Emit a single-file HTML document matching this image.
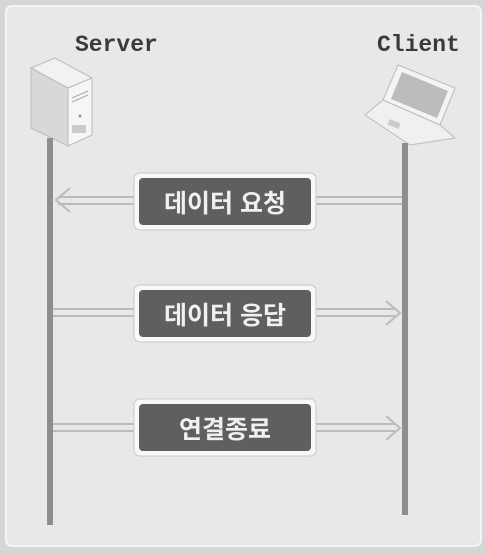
<!DOCTYPE html>
<html><head><meta charset="utf-8"><style>
body{margin:0;width:486px;height:550px;background:#d4d4d4;overflow:hidden;font-family:"Liberation Sans","Noto Sans CJK KR",sans-serif}
</style></head><body>
<svg width="486" height="550" xmlns="http://www.w3.org/2000/svg">
<rect x="0" y="0" width="486" height="550" fill="#d6d6d6"/>
<rect x="6" y="6" width="475" height="540" rx="6" fill="#e8e8ea" stroke="#f4f4f4" stroke-width="2"/>
<text x="75" y="51" font-family="Liberation Mono, monospace" font-size="23" font-weight="bold" fill="#3a3a3a">Server</text>
<text x="377" y="51" font-family="Liberation Mono, monospace" font-size="23" font-weight="bold" fill="#3a3a3a">Client</text>
<!-- server icon -->
<polygon points="31,68 55,58 92,78 68,88" fill="#f2f2f2" stroke="#bbb"/>
<polygon points="31,68 68,88 68,146 31,128" fill="#d8d8d8" stroke="#bbb"/>
<polygon points="68,88 92,78 92,135 68,146" fill="#f6f6f6" stroke="#bbb"/>
<line x1="72" y1="98" x2="88" y2="91" stroke="#aaa"/>
<line x1="72" y1="102" x2="88" y2="95" stroke="#aaa"/>
<circle cx="80" cy="116" r="1.5" fill="#999"/>
<rect x="72" y="125" width="14" height="8" fill="#ccc"/>
<!-- laptop -->
<polygon points="398,65 455,88 440,125 383,100" fill="#f4f4f4" stroke="#bbb"/>
<polygon points="402,72 448,91 437,118 391,99" fill="#bcbcbc"/>
<polygon points="365,115 383,100 440,125 455,138 410,145" fill="#f0f0f0" stroke="#bbb"/>
<rect x="388" y="121" width="12" height="6" fill="#ccc" transform="rotate(20 394 124)"/>
<!-- lifelines -->
<line x1="50" y1="138" x2="50" y2="525" stroke="#8e8e8e" stroke-width="6"/>
<line x1="405" y1="143" x2="405" y2="515" stroke="#8e8e8e" stroke-width="6"/>
<!-- arrows -->
<g stroke="#bbb" stroke-width="2" fill="none">
<line x1="58" y1="197" x2="402" y2="197"/><line x1="58" y1="204" x2="402" y2="204"/>
<polyline points="70,188 56,200 70,212"/>
<line x1="53" y1="309" x2="395" y2="309"/><line x1="53" y1="316" x2="395" y2="316"/>
<polyline points="386,301 400,313 386,325"/>
<line x1="53" y1="424" x2="395" y2="424"/><line x1="53" y1="431" x2="395" y2="431"/>
<polyline points="386,416 400,428 386,440"/>
</g>
<!-- boxes -->
<g>
<rect x="134" y="173" width="182" height="57" rx="6" fill="#f8f8f8" stroke="#c8c8c8"/>
<rect x="139" y="178" width="172" height="47" rx="4" fill="#5f5f5f"/>
<text x="225" y="212" text-anchor="middle" font-size="25" font-weight="bold" fill="#f0f0f0">데이터 요청</text>
<rect x="134" y="285" width="182" height="57" rx="6" fill="#f8f8f8" stroke="#c8c8c8"/>
<rect x="139" y="290" width="172" height="47" rx="4" fill="#5f5f5f"/>
<text x="225" y="324" text-anchor="middle" font-size="25" font-weight="bold" fill="#f0f0f0">데이터 응답</text>
<rect x="134" y="399" width="182" height="57" rx="6" fill="#f8f8f8" stroke="#c8c8c8"/>
<rect x="139" y="404" width="172" height="47" rx="4" fill="#5f5f5f"/>
<text x="225" y="438" text-anchor="middle" font-size="25" font-weight="bold" fill="#f0f0f0">연결종료</text>
</g>
</svg>
</body></html>
